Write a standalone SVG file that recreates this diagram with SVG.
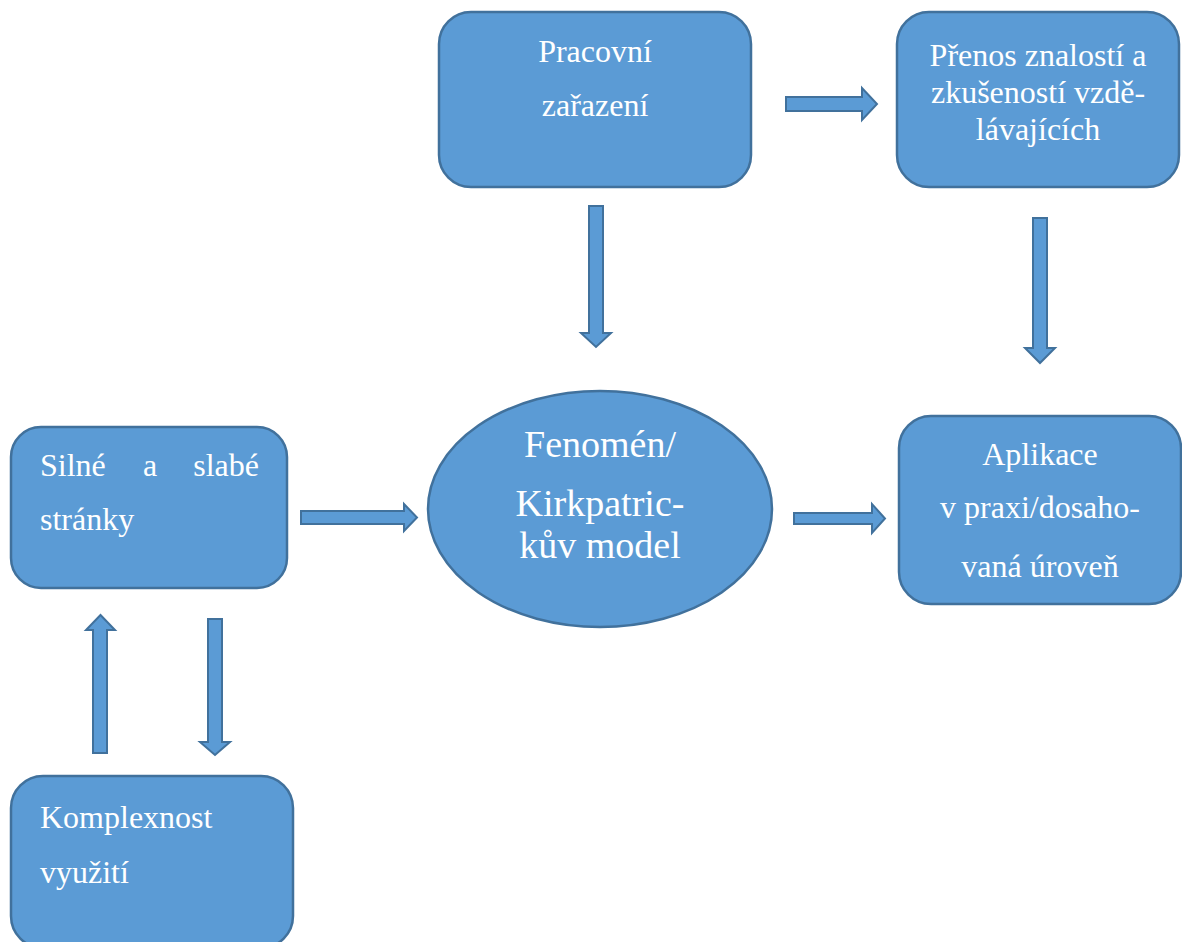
<svg xmlns="http://www.w3.org/2000/svg" width="1182" height="942" viewBox="0 0 1182 942">
<style>
.box{fill:#5B9BD5;stroke:#41719C;stroke-width:2.5}
.arr{fill:#5B9BD5;stroke:#41719C;stroke-width:2;stroke-linejoin:miter}
.t{font-family:'Liberation Serif',serif;font-size:32px;fill:#ffffff}
.c{text-anchor:middle}
.big{font-size:38px}
</style>
<rect width="1182" height="942" fill="#ffffff"/>
<g id="connectors">
<path class="arr" d="M786,97 H862 V88 L877,104 L862,120 V111 H786 Z"/>
<path class="arr" d="M589,206 H603 V333 H611 L596,347 L581,333 H589 Z"/>
<path class="arr" d="M1033,218 H1047 V348 H1055 L1040,363 L1025,348 H1033 Z"/>
<path class="arr" d="M301,511 H404 V504 L417,517.5 L404,531 V524 H301 Z"/>
<path class="arr" d="M794,513 H872 V504 L885,518.5 L872,533 V524 H794 Z"/>
<path class="arr" d="M93,753 V630 H86 L100.5,615 L115,630 H107 V753 Z"/>
<path class="arr" d="M208,619 H222 V742 H230 L215,755 L200,742 H208 Z"/>
</g>
<g id="node-pracovni">
<rect class="box" x="439" y="12" width="312" height="175" rx="32"/>
<text class="t c" x="595" y="62" font-family="Liberation Serif">Pracovní</text>
<text class="t c" x="595" y="116" font-family="Liberation Serif">zařazení</text>
</g>
<g id="node-prenos">
<rect class="box" x="897" y="12" width="282" height="175" rx="32"/>
<text class="t c" x="1038" y="66">Přenos znalostí a</text>
<text class="t c" x="1038" y="103">zkušeností vzdě-</text>
<text class="t c" x="1038" y="140">lávajících</text>
</g>
<g id="node-fenomen">
<ellipse class="box" cx="600" cy="509" rx="172" ry="118"/>
<text class="t c big" x="600" y="457">Fenomén/</text>
<text class="t c big" x="600" y="516">Kirkpatric-</text>
<text class="t c big" x="600" y="558">kův model</text>
</g>
<g id="node-silne">
<rect class="box" x="11" y="427" width="276" height="161" rx="30"/>
<text class="t" x="40" y="476">Silné</text>
<text class="t" x="143" y="476">a</text>
<text class="t" x="259" y="476" text-anchor="end">slabé</text>
<text class="t" x="40" y="530">stránky</text>
</g>
<g id="node-aplikace">
<rect class="box" x="899" y="416" width="282" height="188" rx="32"/>
<text class="t c" x="1040" y="465">Aplikace</text>
<text class="t c" x="1040" y="518">v praxi/dosaho-</text>
<text class="t c" x="1040" y="577">vaná úroveň</text>
</g>
<g id="node-komplexnost">
<rect class="box" x="11" y="776" width="282" height="172" rx="32"/>
<text class="t" x="40" y="828">Komplexnost</text>
<text class="t" x="40" y="883">využití</text>
</g>
</svg>
